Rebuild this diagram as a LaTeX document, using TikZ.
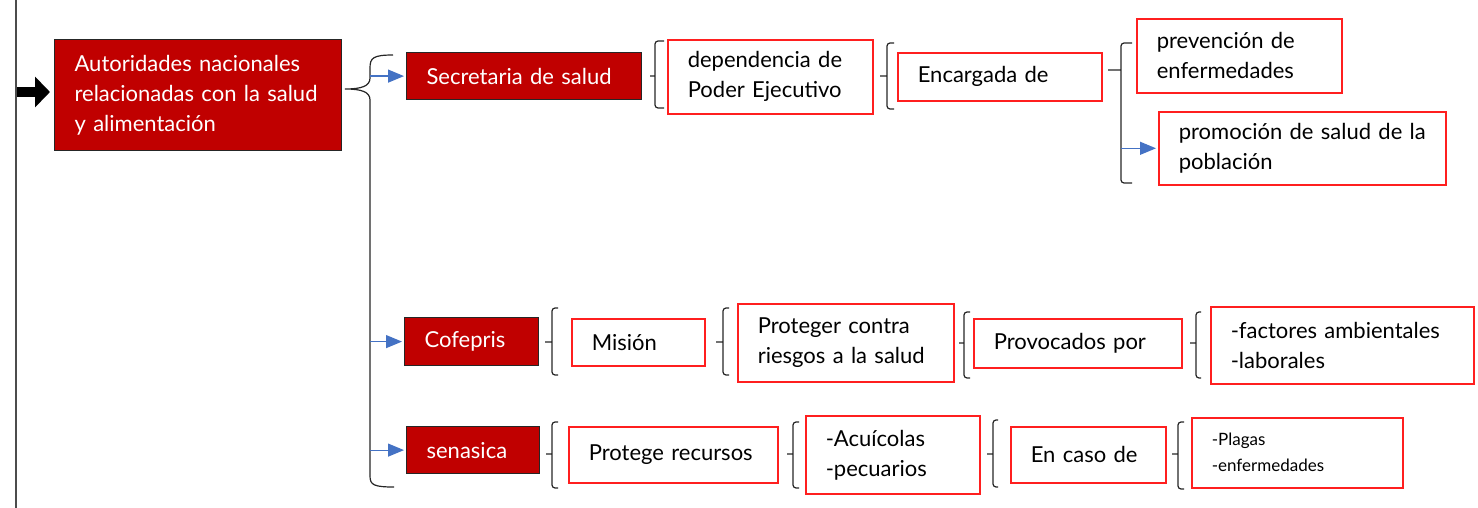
\documentclass[tikz,border=0pt]{standalone}
\usepackage{fontspec}
\setmainfont{Lato}
\usetikzlibrary{arrows.meta}
\definecolor{rojo}{HTML}{C00000}
\definecolor{borde}{HTML}{FF1F1F}
\definecolor{azul}{HTML}{4472C4}
\begin{document}
\begin{tikzpicture}[x=0.5pt,y=-0.5pt,
            caja/.style 2 args={rectangle,anchor=north west,align=left,
              inner xsep=10pt,inner ysep=1pt,font=\fontsize{11}{15}\selectfont,
              minimum width=#1*0.5pt,minimum height=#2*0.5pt,text width=#1*0.5pt-20pt},
            roja/.style={fill=rojo,draw=black!85,line width=0.6pt,text=white},
            blanca/.style={draw=borde,line width=0.8pt,text=black},
            llave/.style={draw=black!85,line width=0.6pt,rounded corners=1.5pt},
            flecha/.style={draw=azul,line width=0.6pt,-{Triangle[length=8pt,width=6.5pt]},shorten >=1pt},
            gruesa/.style={draw=black,line width=5pt,-{Triangle[length=7.5pt,width=15pt]},shorten >=2pt}]
  \useasboundingbox (0,0) rectangle (1478,508);
  \draw[black!70,line width=1pt] (16,0) -- (16,508);
  \coordinate (ini) at (17,92);
  \coordinate (eje) at (370,0);
  \coordinate (eje2) at (1121,0);

  \node[caja={287}{111},roja] (aut) at (54,39) {Autoridades nacionales\\relacionadas con la salud\\y alimentación};
  \node[caja={235}{47},roja] (sec) at (406,52) {Secretaria de salud};
  \node[caja={205}{74},blanca] (dep) at (667,39) {dependencia de\\Poder Ejecutivo};
  \node[caja={204}{48},blanca] (enc) at (897,52) {Encargada de};
  \node[caja={205}{74},blanca] (prev) at (1136,18) {prevención de\\enfermedades};
  \node[caja={287}{73},blanca] (prom) at (1158,111) {\mbox{promoción de salud de la}\\población};

  \node[caja={134}{48},roja] (cof) at (404,317) {Cofepris};
  \node[caja={133}{47},blanca] (mis) at (571,318) {Misión};
  \node[caja={216}{78},blanca] (prot) at (737,303) {Proteger contra\\riesgos a la salud};
  \node[caja={208}{49},blanca] (prov) at (973,318) {Provocados por};
  \node[caja={263}{77},blanca] (fact) at (1210,306) {-factores ambientales\\-laborales};

  \node[caja={133}{47},roja] (sen) at (406,426) {senasica};
  \node[caja={209}{56},blanca] (rec) at (568,426) {Protege recursos};
  \node[caja={174}{78},blanca] (acu) at (805,415) {-Acuícolas\\-pecuarios};
  \node[caja={155}{56},blanca] (caso) at (1010,426) {En caso de};
  \node[caja={211}{70},blanca,font=\fontsize{8.5}{13}\selectfont] (plag) at (1191,417) {-Plagas\\-enfermedades};

  \draw[gruesa] (ini) -- (aut.west |- ini);
  \draw[llave,rounded corners=0pt] (393,55) .. controls (373,55) and (370,58) .. (370,68) -- (370,78)
    .. controls (370,86) and (362,89) .. (345,89) .. controls (362,89) and (370,92) .. (370,100)
    -- (370,476) .. controls (370,485) and (374,487) .. (394,487);
  \draw[flecha] (eje |- sec.west) -- (sec.west);
  \draw[flecha] (eje |- cof.west) -- (cof.west);
  \draw[flecha] (eje |- sen.west) -- (sen.west);

  \draw[llave] (664,41) -- (655,41) -- (655,108) -- (664,108) (650,76) -- (655,76);
  \draw[llave] (894,43) -- (887,43) -- (887,109) -- (894,109) (880,76) -- (887,76);
  \draw[llave] (1132,43) -- (1121,43) -- (1121,183) -- (1132,183) (1108,70) -- (1121,70);
  \draw[flecha] (eje2 |- prom.west) -- (prom.west);

  \draw[llave] (558,308) -- (552,308) -- (552,375) -- (558,375) (545,342) -- (552,342);
  \draw[llave] (729,308) -- (723,308) -- (723,375) -- (729,375) (716,342) -- (723,342);
  \draw[llave] (970,312) -- (964,312) -- (964,378) -- (970,378) (959,343) -- (964,343);
  \draw[llave] (1201,312) -- (1196,312) -- (1196,378) -- (1201,378) (1190,343) -- (1196,343);

  \draw[llave] (558,422) -- (552,422) -- (552,488) -- (558,488) (546,454) -- (552,454);
  \draw[llave] (799,422) -- (793,422) -- (793,488) -- (799,488) (787,454) -- (793,454);
  \draw[llave] (998,420) -- (993,420) -- (993,487) -- (998,487) (987,454) -- (993,454);
  \draw[llave] (1184,422) -- (1178,422) -- (1178,489) -- (1184,489) (1172,454) -- (1178,454);
\end{tikzpicture}
\end{document}
